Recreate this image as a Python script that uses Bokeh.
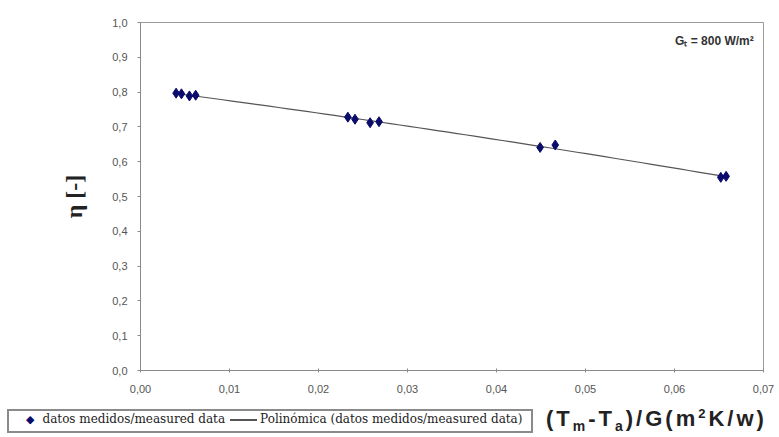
import numpy as np
from bokeh.plotting import figure
from bokeh.layouts import column
from bokeh.models import Range1d, FixedTicker, CustomJSTickFormatter, Label, Div
from bokeh.embed import file_html
from bokeh.resources import INLINE

x_meas = [0.0040, 0.0046, 0.0055, 0.0062, 0.0233, 0.0241, 0.0258, 0.0268, 0.0449, 0.0466, 0.0652, 0.0658]
y_meas = [0.797, 0.795, 0.789, 0.791, 0.728, 0.722, 0.712, 0.715, 0.641, 0.648, 0.555, 0.558]

x_ticks = [0.0, 0.01, 0.02, 0.03, 0.04, 0.05, 0.06, 0.07]
x_labels = ["0,00", "0,01", "0,02", "0,03", "0,04", "0,05", "0,06", "0,07"]
y_ticks = [0.0, 0.1, 0.2, 0.3, 0.4, 0.5, 0.6, 0.7, 0.8, 0.9, 1.0]
y_labels = ["0,0", "0,1", "0,2", "0,3", "0,4", "0,5", "0,6", "0,7", "0,8", "0,9", "1,0"]

legend_measured = "datos medidos/measured data"
legend_fit = "Polinómica (datos medidos/measured data)"
SUB = "font-size:14px;position:relative;top:5px;"
SUP = "font-size:13px;position:relative;top:-8px;"
x_title_html = (f"(T<span style='{SUB}'>m</span>-T<span style='{SUB}'>a</span>)/G"
                f"(m<span style='{SUP}'>2</span>K/w)")
y_title = "η [-]"
note = "Gₜ = 800 W/m²"

MARK_COLOR = "#0b0b6b"
LINE_COLOR = "#555555"

# polynomial trendline (2nd order) fitted to the measured data
coef = np.polyfit(x_meas, y_meas, 2)
x_fit = np.linspace(min(x_meas), max(x_meas), 60)
y_fit = np.polyval(coef, x_fit)

p = figure(width=779, height=398, output_backend="svg", toolbar_location=None,
           x_range=Range1d(0, 0.07), y_range=Range1d(0, 1.0),
           min_border_left=140, min_border_right=16, min_border_top=22, min_border_bottom=28)
p.background_fill_color = "white"
p.border_fill_color = "white"
p.outline_line_color = "#9a9a9a"
p.outline_line_width = 1
p.xgrid.visible = False
p.ygrid.visible = False

fmt_code = """
const i = tvals.findIndex(t => Math.abs(t - tick) < 1e-9);
return i >= 0 ? tlabels[i] : '';
"""
p.xaxis.ticker = FixedTicker(ticks=x_ticks)
p.xaxis.formatter = CustomJSTickFormatter(args=dict(tvals=x_ticks, tlabels=x_labels), code=fmt_code)
p.yaxis.ticker = FixedTicker(ticks=y_ticks)
p.yaxis.formatter = CustomJSTickFormatter(args=dict(tvals=y_ticks, tlabels=y_labels), code=fmt_code)

for ax in (p.xaxis[0], p.yaxis[0]):
    ax.axis_line_color = "#8a8a8a"
    ax.major_tick_line_color = "#8a8a8a"
    ax.minor_tick_line_color = None
    ax.major_label_text_font = "Liberation Sans"
    ax.major_label_text_font_size = "11px"
    ax.major_label_text_color = "#555555"
p.xaxis.major_tick_in = 2
p.xaxis.major_tick_out = 2
p.xaxis.major_label_standoff = 12
p.yaxis.major_tick_in = 0
p.yaxis.major_tick_out = 3
p.yaxis.major_label_standoff = 10

p.yaxis.axis_label = y_title
p.yaxis.axis_label_text_font = "Liberation Serif"
p.yaxis.axis_label_text_font_style = "bold"
p.yaxis.axis_label_text_font_size = "24px"
p.yaxis.axis_label_text_color = "#222222"
p.yaxis.axis_label_standoff = 22

p.line(x_fit, y_fit, line_color=LINE_COLOR, line_width=1.2)
p.scatter(x_meas, y_meas, marker="diamond", size=10, fill_color=MARK_COLOR, line_color=MARK_COLOR)

p.add_layout(Label(x=0.0689, y=0.948, text=note, text_font="Liberation Sans",
                   text_font_style="bold", text_font_size="12px", text_color="#333333",
                   text_baseline="middle", text_align="right"))

# strip under the chart: legend box and x-axis title
txt = "font-family:'DejaVu Serif';font-size:12px;color:#222;white-space:nowrap;"
legend_html = f"""
<div style="position:relative;width:779px;height:39px;overflow:hidden;background:white;">
  <div style="position:absolute;left:2px;top:6px;width:526px;height:24px;padding-top:7px;padding-bottom:10px;
              border:2px solid #8a8a8a;background:white;display:flex;align-items:center;">
    <span style="margin-left:17px;font-family:'DejaVu Sans';font-size:11px;color:{MARK_COLOR};">&#9670;</span>
    <span style="margin-left:8px;{txt}">{legend_measured}</span>
    <span style="margin-left:5px;width:27px;height:0;border-top:2px solid {LINE_COLOR};"></span>
    <span style="margin-left:3px;{txt}">{legend_fit}</span>
  </div>
  <div style="position:absolute;left:541px;top:4px;font-family:'Liberation Sans';font-weight:bold;
              font-size:22px;letter-spacing:3px;color:#222;white-space:nowrap;line-height:24px;">{x_title_html}</div>
</div>
"""
strip = Div(text=legend_html, width=779, height=39)

layout = column(p, strip, spacing=0)
open("out.html", "w", encoding="utf-8").write(file_html(layout, INLINE))
